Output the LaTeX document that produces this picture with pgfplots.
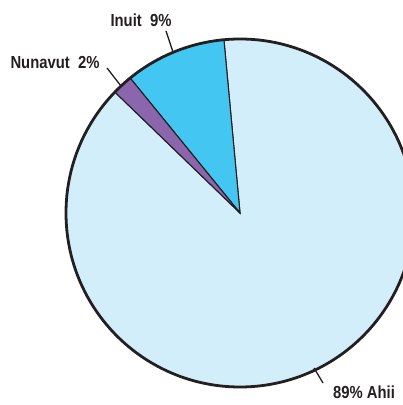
\documentclass[border=0pt]{standalone}
\usepackage{fontspec}
\setmainfont{Liberation Sans}[FakeStretch=0.85]
\usepackage{pgfplots}
\usepackage{pgfplotstable}
\pgfplotsset{compat=1.18}
\definecolor{ahii}{HTML}{D2EEFA}
\definecolor{inuit}{HTML}{43C6F2}
\definecolor{nunavut}{HTML}{8B66AD}
\definecolor{outline}{HTML}{231F20}
\pgfplotstableread{
label value
Inuit 9.4
Nunavut 1.9
Ahii 88.7
}\piedata
\begin{document}
\begin{tikzpicture}
\pgfplotstablegetelem{0}{value}\of\piedata \let\vA\pgfplotsretval
\pgfplotstablegetelem{1}{value}\of\piedata \let\vB\pgfplotsretval
\pgfplotstablegetelem{2}{value}\of\piedata \let\vC\pgfplotsretval
\pgfmathsetmacro\aA{95.3}
\pgfmathsetmacro\aB{\aA+3.6*\vA}
\pgfmathsetmacro\aC{\aB+3.6*\vB}
\pgfmathsetmacro\aD{\aC+3.6*\vC}
\begin{axis}[
  width=403bp, height=405bp, scale only axis,
  xmin=0, xmax=403, ymin=-405, ymax=0,
  hide axis, clip=true,
]
\fill[ahii,draw=outline,line width=1.1pt] (axis cs:240,-213) -- ++(\aC:174bp) arc[start angle=\aC, end angle=\aD, radius=174bp] -- cycle;
\fill[inuit,draw=outline,line width=1.1pt] (axis cs:240,-213) -- ++(\aA:174bp) arc[start angle=\aA, end angle=\aB, radius=174bp] -- cycle;
\fill[nunavut,draw=outline,line width=1.1pt] (axis cs:240,-213) -- ++(\aB:174bp) arc[start angle=\aB, end angle=\aC, radius=174bp] -- cycle;
\draw[outline,line width=2.8pt] (axis cs:240,-213) circle[radius=174bp];
\draw[outline,line width=1.3pt] (axis cs:166,-31) -- (axis cs:173,-52);
\draw[outline,line width=1.3pt] (axis cs:107,-68) -- (axis cs:121,-86);
\draw[outline,line width=1.3pt] (axis cs:314,-368) -- (axis cs:323,-383);
\node[font=\fontsize{17.5}{19}\selectfont\bfseries, text=outline, inner sep=0pt] at (axis cs:141,-20) {Inuit\ \ 9\%};
\node[font=\fontsize{17.5}{19}\selectfont\bfseries, text=outline, inner sep=0pt] at (axis cs:55,-63) {Nunavut\ \ 2\%};
\node[font=\fontsize{17.5}{19}\selectfont\bfseries, text=outline, inner sep=0pt] at (axis cs:364,-392) {89\%\ Ahii};
\end{axis}
\pgfresetboundingbox
\path (current axis.south west) rectangle (current axis.north east);
\end{tikzpicture}
\end{document}
